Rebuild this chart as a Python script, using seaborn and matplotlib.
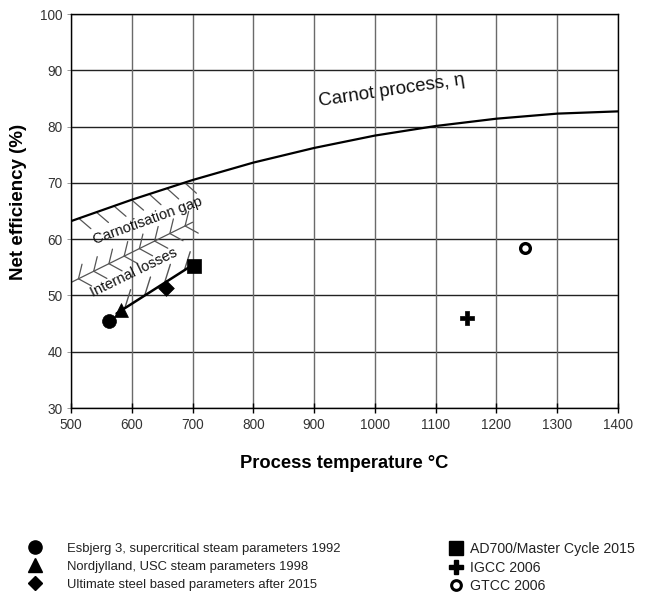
import numpy as np
import pandas as pd
import matplotlib
matplotlib.use("Agg")
import matplotlib.pyplot as plt
import matplotlib.patheffects as pe
from matplotlib.lines import Line2D
import seaborn as sns

# ---- data ----
carnot_temp = [500, 600, 700, 800, 900, 1000, 1100, 1200, 1300, 1400]
carnot_eff = [63.2, 67.0, 70.5, 73.6, 76.2, 78.4, 80.1, 81.4, 82.3, 82.7]

loss_temp = [500, 700]
loss_eff = [52.3, 63.0]

trend_temp = [575, 700]
trend_eff = [46.8, 55.4]

plant_names = [
    "Esbjerg 3, supercritical steam parameters 1992",
    "Nordjylland, USC steam parameters 1998",
    "Ultimate steel based parameters after 2015",
    "AD700/Master Cycle 2015",
    "IGCC 2006",
    "GTCC 2006",
]
plant_temp = [562, 582, 656, 702, 1152, 1247]
plant_eff = [45.5, 47.4, 51.4, 55.3, 46.0, 58.4]
plant_markers = ["o", "^", "D", "s", "P", "o"]
plant_sizes = [10, 10, 8, 10, 10, 7]

x_ticks = [500, 600, 700, 800, 900, 1000, 1100, 1200, 1300, 1400]
y_ticks = [30, 40, 50, 60, 70, 80, 90, 100]

sns.set_theme(style="white")
plt.rcParams["font.family"] = ["Liberation Sans", "DejaVu Sans"]

fig = plt.figure(figsize=(6.45, 5.96), dpi=100)
ax = fig.add_axes([71 / 645, 1 - 408 / 596, 547 / 645, 394 / 596])

ax.set_xlim(500, 1400)
ax.set_ylim(30, 100)
ax.set_xticks(x_ticks)
ax.set_yticks(y_ticks)
for y in y_ticks:
    ax.axhline(y, color="#222222", lw=1.0, zorder=0.5)
for x in x_ticks:
    ax.axvline(x, color="#6a6a6a", lw=1.0, zorder=0.5)

# Carnot curve
cdf = pd.DataFrame({"T": carnot_temp, "eta": carnot_eff})
sns.lineplot(data=cdf, x="T", y="eta", ax=ax, color="black", lw=1.6, zorder=3)
# hatched part of the Carnot curve
ax.plot(carnot_temp[:3], carnot_eff[:3], color="none", lw=0, zorder=2,
        path_effects=[pe.withTickedStroke(spacing=12, angle=-60, length=0.95,
                                          foreground="#555555", linewidth=0.9)])

# internal losses line with ticks on both sides
ldf = pd.DataFrame({"T": loss_temp, "eta": loss_eff})
sns.lineplot(data=ldf, x="T", y="eta", ax=ax, color="#555555", lw=0.9, zorder=2)
ax.plot(loss_temp, loss_eff, color="none", lw=0, zorder=2,
        path_effects=[pe.withTickedStroke(spacing=12, angle=50, length=0.9,
                                          foreground="#555555", linewidth=0.9),
                      pe.withTickedStroke(spacing=12, angle=-55, length=0.9,
                                          foreground="#555555", linewidth=0.9)])

# development trend line
tdf = pd.DataFrame({"T": trend_temp, "eta": trend_eff})
ax.plot(trend_temp, trend_eff, color="none", lw=0, zorder=2,
        path_effects=[pe.withTickedStroke(spacing=14, angle=40, length=1.0,
                                          foreground="#555555", linewidth=1.0)])
sns.lineplot(data=tdf, x="T", y="eta", ax=ax, color="black", lw=1.8, zorder=3)

# plant markers
pdf = pd.DataFrame({"T": plant_temp, "eta": plant_eff, "name": plant_names})
for i, row in pdf.iterrows():
    if i == 5:
        sns.scatterplot(x=[row["T"]], y=[row["eta"]], ax=ax, marker="o",
                        s=plant_sizes[i] ** 2, facecolor="white",
                        edgecolor="black", linewidth=2.4, zorder=5)
    else:
        sns.scatterplot(x=[row["T"]], y=[row["eta"]], ax=ax, marker=plant_markers[i],
                        s=plant_sizes[i] ** 2, color="black", edgecolor="black",
                        linewidth=0.5, zorder=5)

# annotations
ax.text(1028, 86.3, "Carnot process, η", rotation=8.5, fontsize=13.5,
        ha="center", va="center", color="#111111")
ax.text(626, 63.3, "Carnotisation gap", rotation=20, fontsize=10.5,
        ha="center", va="center", color="#111111", rotation_mode="anchor")
ax.text(603, 54.0, "Internal losses", rotation=26, fontsize=10.5,
        ha="center", va="center", color="#111111", rotation_mode="anchor")

ax.set_xlabel("Process temperature °C", fontsize=13.2, fontweight="bold",
              color="black", labelpad=16)
ax.set_ylabel("Net efficiency (%)", fontsize=13.5, fontweight="bold",
              color="black")
ax.yaxis.set_label_coords(-0.080, 0.523)
ax.tick_params(axis="x", direction="inout", length=7, width=1, colors="black",
               labelcolor="#333333", labelsize=9.8, pad=4, bottom=True)
ax.tick_params(axis="y", direction="out", length=3, width=0.6, colors="#888888",
               labelcolor="#333333", labelsize=9.8, pad=3, left=True)
for s in ax.spines.values():
    s.set_color("black")
    s.set_linewidth(1.0)
ax.grid(False)

# legend (two columns)
def handle(i):
    if i == 5:
        return Line2D([], [], ls="none", marker="o", markersize=7,
                      markerfacecolor="white", markeredgecolor="black",
                      markeredgewidth=2.2)
    return Line2D([], [], ls="none", marker=plant_markers[i],
                  markersize=plant_sizes[i] * 0.95, color="black")

leg_kw = dict(loc="upper left", frameon=False, borderpad=0, handlelength=1.2,
              labelcolor="#222222")
fig.legend([handle(i) for i in range(3)], plant_names[:3],
           bbox_to_anchor=(21 / 645, 1 - 536 / 596), handletextpad=1.8,
           labelspacing=0.45, prop={"family": "Liberation Sans", "size": 9.4},
           **leg_kw)
fig.legend([handle(i) for i in range(3, 6)], plant_names[3:],
           bbox_to_anchor=(440 / 645, 1 - 535 / 596), handletextpad=0.4,
           labelspacing=0.33, prop={"family": "Liberation Sans", "size": 10.2},
           **leg_kw)

fig.savefig("out.png", dpi=100)
